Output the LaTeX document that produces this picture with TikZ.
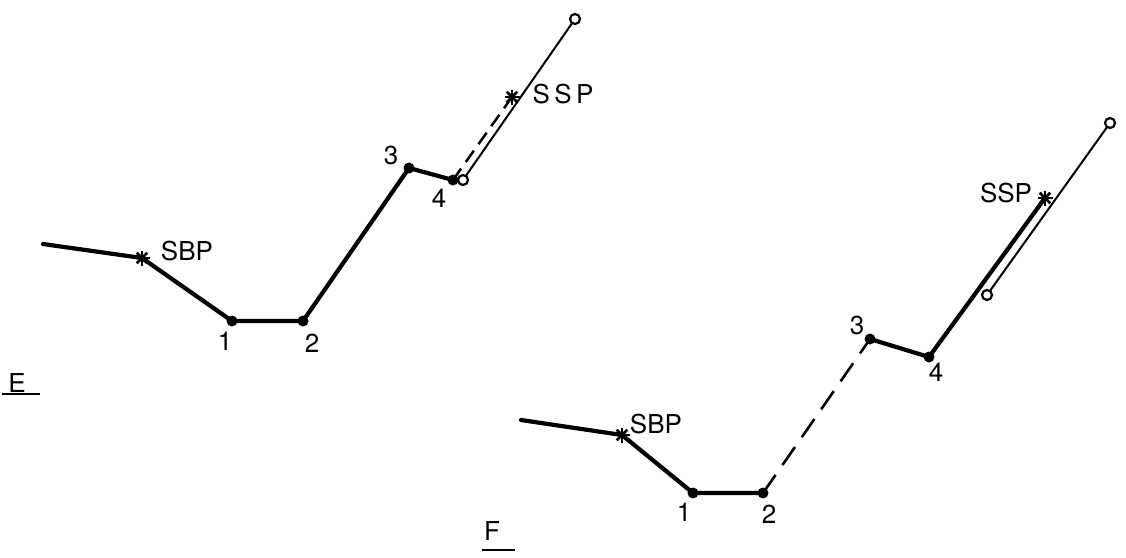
\documentclass[tikz,border=0pt]{standalone}
\usepackage{fontspec}
\setmainfont{TeX Gyre Heros}
\begin{document}
\begin{tikzpicture}[x=1pt,y=-1pt,
  heavy/.style={line width=4.2pt, line cap=round, line join=round},
  thinline/.style={line width=2pt},
  dashE/.style={line width=2.5pt, dash pattern=on 14pt off 8pt},
  dashF/.style={line width=2.6pt, dash pattern=on 22pt off 12pt},
  dot/.style={circle, fill, inner sep=0pt, minimum size=11pt},
  ring/.style={circle, draw, line width=2.2pt, fill=white, inner sep=0pt, minimum size=10pt},
  lbl/.style={font=\fontsize{26}{26}\selectfont, inner sep=0pt},
  uline/.style={line width=2.4pt},
  asterisk/.pic={\foreach \a in {0,45,90,135} \draw[line width=2.6pt] (\a:7.5) -- (\a+180:7.5);}
]
\useasboundingbox (0,0) rectangle (1126,557);

% ---------- Diagram E ----------
\coordinate (e0) at (43,244);
\coordinate (eS) at (142,258);
\coordinate (e1) at (232,321);
\coordinate (e2) at (303,321);
\coordinate (e3) at (409,168);
\coordinate (e4) at (453,180);
\coordinate (eSS) at (512,97);
\coordinate (eR) at (463,180);
\coordinate (eT) at (575,19);

\draw[heavy] (e0) -- (eS) -- (e1) -- (e2) -- (e3) -- (e4);
\draw[dashE] (e4) -- (eSS);
\draw[thinline] (eR) -- (eT);
\node[dot] (d1) at (e1) {};
\node[dot] (d2) at (e2) {};
\node[dot] (d3) at (e3) {};
\node[dot] (d4) at (e4) {};
\node[ring] (r1) at (eR) {};
\node[ring] (r2) at (eT) {};
\pic at (eS) {asterisk};
\pic at (eSS) {asterisk};

\node[lbl] (lSBPe) at (187,251) {SBP};
\node[lbl] (lSSPe) at (563,94) {S\,S\,P};
\node[lbl] (l1e) at (225,341) {1};
\node[lbl] (l2e) at (312,343) {2};
\node[lbl] (l3e) at (391,155) {3};
\node[lbl] (l4e) at (439,198) {4};
\node[lbl] (lE) at (17,383) {E};
\coordinate (uEa) at (2,394);
\coordinate (uEb) at (40,394);
\draw[uline] (uEa) -- (uEb);

% ---------- Diagram F ----------
\coordinate (f0) at (521,420);
\coordinate (fS) at (622,435);
\coordinate (f1) at (693,493);
\coordinate (f2) at (763,493);
\coordinate (f3) at (870,339);
\coordinate (f4) at (929,357);
\coordinate (fSS) at (1045,198);
\coordinate (fR) at (987,295);
\coordinate (fT) at (1110,123);

\draw[heavy] (f0) -- (fS) -- (f1) -- (f2);
\draw[dashF] (f2) -- (f3);
\draw[heavy] (f3) -- (f4) -- (fSS);
\draw[thinline] (fR) -- (fT);
\node[dot] (g1) at (f1) {};
\node[dot] (g2) at (f2) {};
\node[dot] (g3) at (f3) {};
\node[dot] (g4) at (f4) {};
\node[ring] (s1) at (fR) {};
\node[ring] (s2) at (fT) {};
\pic at (fS) {asterisk};
\pic at (fSS) {asterisk};

\node[lbl] (lSBPf) at (656,424) {SBP};
\node[lbl] (lSSPf) at (1006,193) {SSP};
\node[lbl] (l1f) at (684,512) {1};
\node[lbl] (l2f) at (769,514) {2};
\node[lbl] (l3f) at (857,325) {3};
\node[lbl] (l4f) at (936,372) {4};
\node[lbl] (lF) at (492,531) {F};
\coordinate (uFa) at (482,550);
\coordinate (uFb) at (515,550);
\draw[uline] (uFa) -- (uFb);
\end{tikzpicture}
\end{document}
